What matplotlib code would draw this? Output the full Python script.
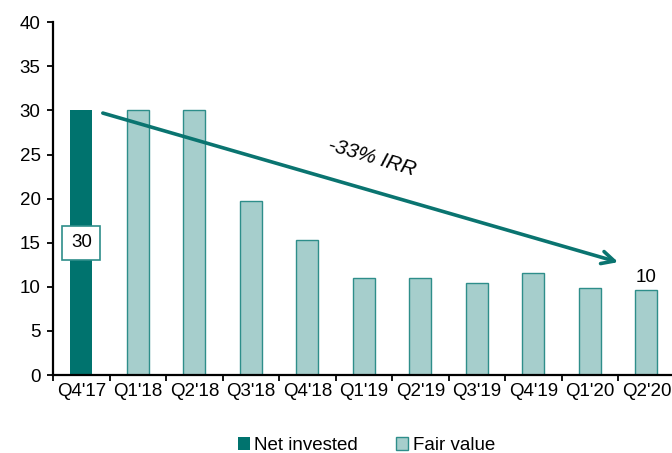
import matplotlib.pyplot as plt
from matplotlib.ticker import MultipleLocator, FixedLocator

plt.rcParams['font.family'] = ['Liberation Sans', 'DejaVu Sans']

quarters = ["Q4'17", "Q1'18", "Q2'18", "Q3'18", "Q4'18", "Q1'19",
            "Q2'19", "Q3'19", "Q4'19", "Q1'20", "Q2'20"]
net_invested = [30]
fair_value = [30, 30, 19.7, 15.3, 11.05, 10.95, 10.45, 11.6, 9.85, 9.65]
irr_label = "-33% IRR"
start_label = "30"
end_label = "10"

dark = '#00736E'
light = '#A6CECC'
light_edge = '#2E8E8A'

fig = plt.figure(figsize=(6.72, 4.53), dpi=100)
ax = fig.add_axes([0.079, 0.172, 0.925, 0.779])

x = list(range(len(quarters)))
w = 0.39
ax.bar(x[:1], net_invested, width=w, color=dark, label='Net invested', zorder=2)
ax.bar(x[1:], fair_value, width=w, color=light, edgecolor=light_edge,
       linewidth=1, label='Fair value', zorder=2)

#trend arrow
ax.annotate('', xy=(9.5, 12.8), xytext=(0.38, 29.7),
            arrowprops=dict(arrowstyle='->,head_length=0.9,head_width=0.45',
                            color='#0A7470', lw=2.6, shrinkA=0, shrinkB=0),
            zorder=3)
ax.text(5.15, 24.6, irr_label, rotation=-16.5, fontsize=15, style='italic',
        ha='center', va='center')

ax.text(0, 15, start_label, ha='center', va='center', fontsize=13.5,
        bbox=dict(boxstyle='square,pad=0.45', fc='white', ec=light_edge, lw=1.2),
        zorder=4)
ax.text(10, 11.1, end_label, ha='center', va='center', fontsize=13.5)

ax.set_xlim(-0.5, 10.5)
ax.set_ylim(0, 40)
ax.yaxis.set_major_locator(MultipleLocator(5))
ax.set_xticks(x)
ax.set_xticklabels(quarters)
ax.xaxis.set_minor_locator(FixedLocator([i - 0.5 for i in range(len(quarters) + 1)]))
ax.tick_params(axis='x', which='major', length=0, labelsize=13.5, pad=6)
ax.tick_params(axis='x', which='minor', length=4, width=1.3, direction='out')
ax.tick_params(axis='y', length=4, width=1.3, labelsize=13.5, direction='out', pad=5)
for s in ['top', 'right']:
    ax.spines[s].set_visible(False)
for s in ['left', 'bottom']:
    ax.spines[s].set_linewidth(1.6)

fig.legend(loc='lower center', bbox_to_anchor=(0.545, -0.04), ncol=2,
           frameon=False, fontsize=13.5, handlelength=0.65, handleheight=0.65,
           handletextpad=0.25, columnspacing=2.0)

fig.savefig('out.png', dpi=100)
